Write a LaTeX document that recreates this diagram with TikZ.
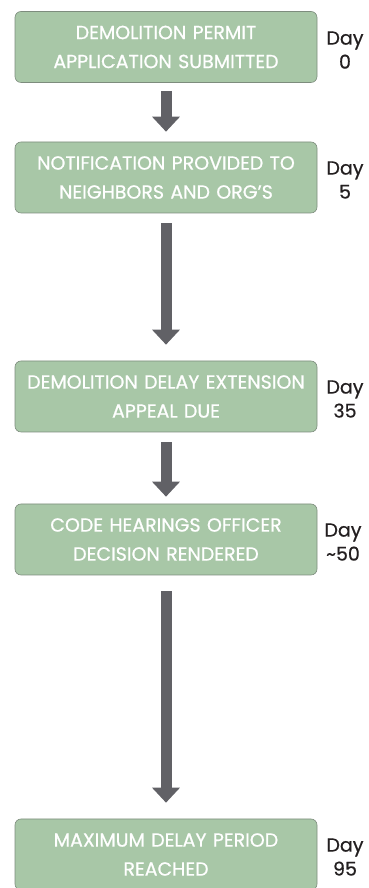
\documentclass[tikz,border=0pt]{standalone}
\usepackage{fontspec}
\setmainfont{Poppins}
\newfontfamily\boxfont[FakeBold=0.8]{Poppins}
\newfontfamily\dayfont[FakeBold=0.6]{Poppins}
\usetikzlibrary{arrows.meta,calc}
\definecolor{boxgreen}{RGB}{168,199,167}
\definecolor{boxedge}{RGB}{125,140,125}
\definecolor{arrowgray}{RGB}{97,97,102}
\definecolor{daytext}{RGB}{35,31,32}
\begin{document}
\begin{tikzpicture}[x=1pt,y=1pt,
  stage/.style={draw=boxedge, line width=0.6pt, fill=boxgreen, rounded corners=6pt,
    minimum width=302pt, minimum height=71pt, text width=296pt, align=center,
    text=white, font=\boxfont\fontsize{19}{29}\selectfont, inner sep=0pt},
  daylbl/.style={align=center, text=daytext, font=\dayfont\fontsize{19}{24}\selectfont, inner sep=0pt},
  flow/.style={draw=arrowgray, line width=11pt, -{Triangle[width=27pt,length=15pt]}}]
\useasboundingbox (0,0) rectangle (368,888);
\node[stage] (b1) at (166,841) {DEMOLITION PERMIT\\APPLICATION SUBMITTED};
\node[stage] (b2) at (166,710.5) {NOTIFICATION PROVIDED TO\\NEIGHBORS AND ORG’S};
\node[stage] (b3) at (166,491.5) {DEMOLITION DELAY EXTENSION\\APPEAL DUE};
\node[stage] (b4) at (166,348.5) {CODE HEARINGS OFFICER\\DECISION RENDERED};
\node[stage] (b5) at (166,33.5) {MAXIMUM DELAY PERIOD\\REACHED};
\node[daylbl] (d1) at (345,838) {Day\\0};
\node[daylbl] (d2) at (345,708) {Day\\5};
\node[daylbl] (d3) at (345,489) {Day\\35};
\node[daylbl] (d4) at (343,346) {Day\\\textasciitilde50};
\node[daylbl] (d5) at (345,31) {Day\\95};
\draw[flow] ($(b1.south)+(0,-8)$) -- ($(b2.north)+(0,10)$);
\draw[flow] ($(b2.south)+(0,-10)$) -- ($(b3.north)+(0,16)$);
\draw[flow] ($(b3.south)+(0,-10)$) -- ($(b4.north)+(0,7)$);
\draw[flow] ($(b4.south)+(0,-16)$) -- ($(b5.north)+(0,16)$);
\end{tikzpicture}
\end{document}
